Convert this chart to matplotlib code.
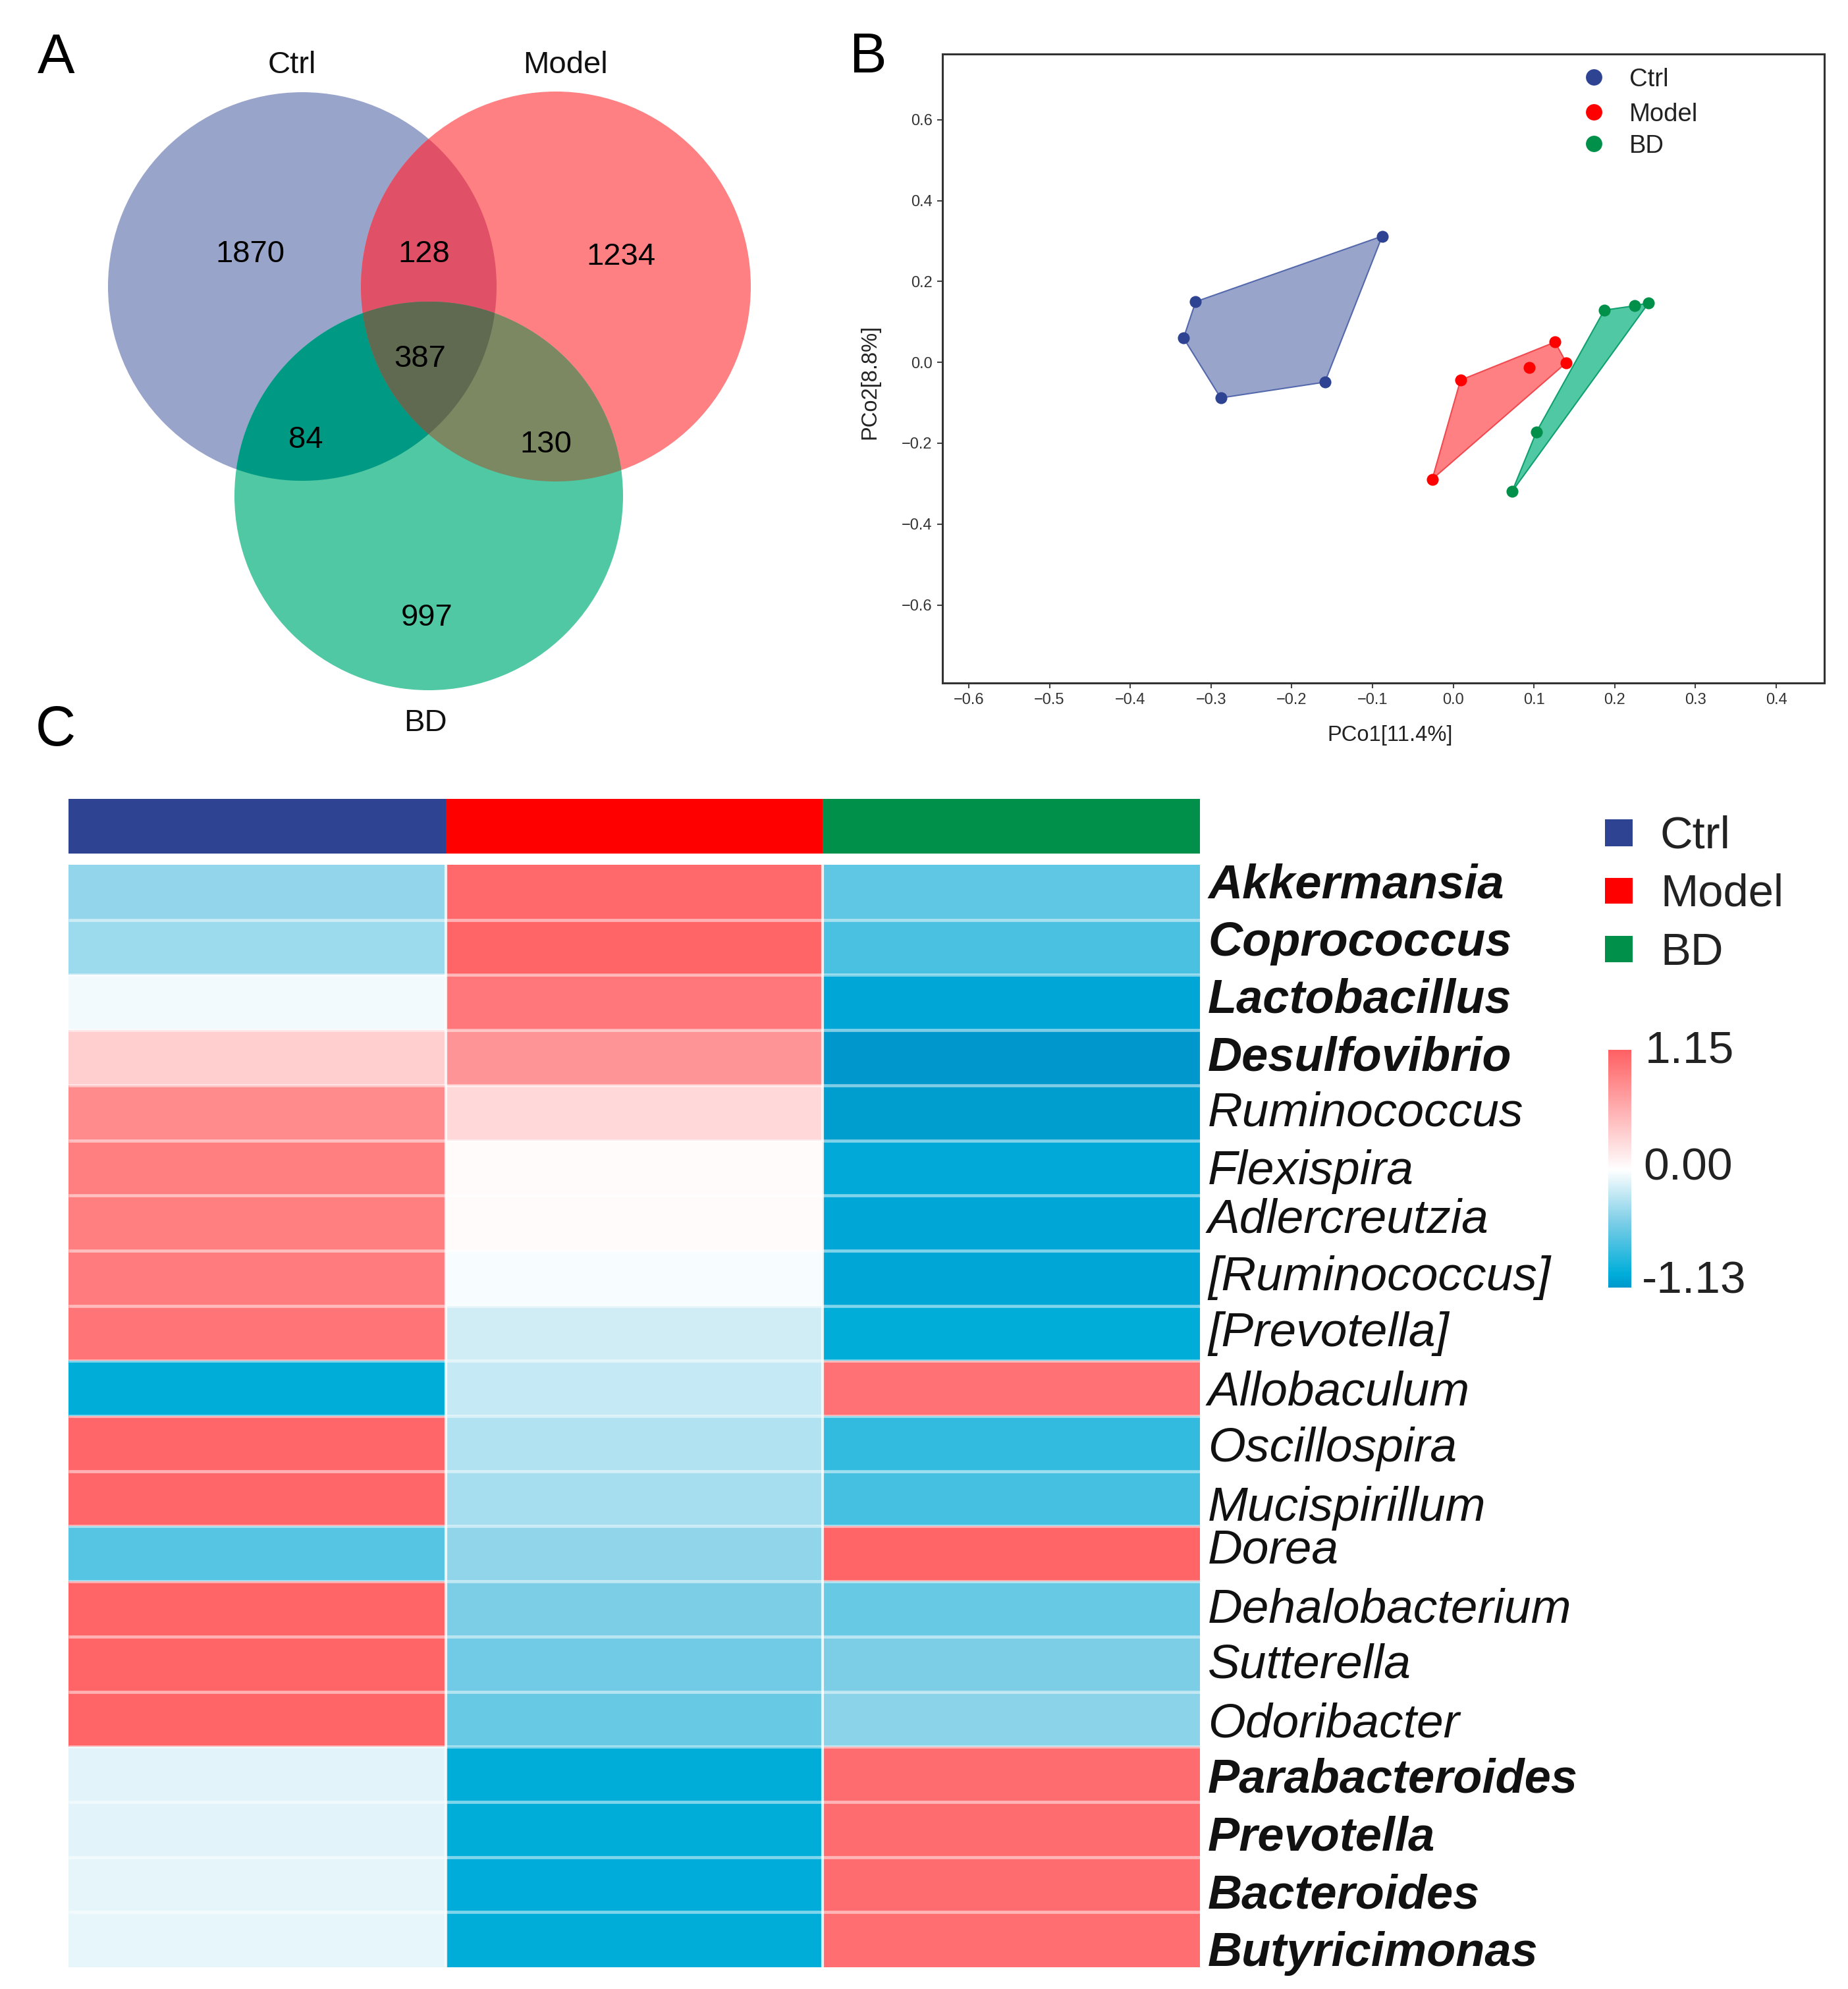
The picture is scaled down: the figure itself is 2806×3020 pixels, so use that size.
import numpy as np
import matplotlib
matplotlib.use("Agg")
import matplotlib.pyplot as plt
from matplotlib.colors import LinearSegmentedColormap, Normalize
from matplotlib.patches import Circle, Polygon, Rectangle
from matplotlib.cm import ScalarMappable

plt.rcParams["font.family"] = ["Liberation Sans", "DejaVu Sans"]

W, H = 2806, 3020

GROUPS = ["Ctrl", "Model", "BD"]
GROUP_COLORS = ["#2E4492", "#FF0000", "#00904A"]

# panel A
VENN_ONLY = [1870, 1234, 997]
VENN_CM, VENN_CB, VENN_MB, VENN_ALL = 128, 84, 130, 387

# panel B
PCO_CTRL_X = [-0.088, -0.159, -0.288, -0.334, -0.319]
PCO_CTRL_Y = [0.312, -0.049, -0.088, 0.060, 0.150]
PCO_MODEL_X = [0.009, 0.126, 0.140, -0.026]
PCO_MODEL_Y = [-0.044, 0.050, -0.001, -0.289]
PCO_MODEL_INNER = (0.094, -0.013)
PCO_BD_X = [0.187, 0.225, 0.242, 0.073, 0.103]
PCO_BD_Y = [0.129, 0.140, 0.147, -0.319, -0.172]
X_TICKS = [-0.6, -0.5, -0.4, -0.3, -0.2, -0.1, 0.0, 0.1, 0.2, 0.3, 0.4]
Y_TICKS = [-0.6, -0.4, -0.2, 0.0, 0.2, 0.4, 0.6]

# panel C
GENERA = ["Akkermansia", "Coprococcus", "Lactobacillus", "Desulfovibrio",
          "Ruminococcus", "Flexispira", "Adlercreutzia", "[Ruminococcus]",
          "[Prevotella]", "Allobaculum", "Oscillospira", "Mucispirillum",
          "Dorea", "Dehalobacterium", "Sutterella", "Odoribacter",
          "Parabacteroides", "Prevotella", "Bacteroides", "Butyricimonas"]
BOLD_GENERA = ["Akkermansia", "Coprococcus", "Lactobacillus", "Desulfovibrio",
               "Parabacteroides", "Prevotella", "Bacteroides", "Butyricimonas"]
HEAT_CTRL = [-0.41, -0.38, -0.05, 0.34, 0.83, 0.92, 0.93, 0.95, 1.00, -1.00,
             1.10, 1.10, -0.65, 1.12, 1.12, 1.12, -0.11, -0.11, -0.10, -0.09]
HEAT_MODEL = [1.08, 1.12, 0.98, 0.77, 0.27, 0.03, 0.03, -0.03, -0.18, -0.22,
              -0.30, -0.34, -0.42, -0.50, -0.55, -0.58, -1.00, -1.00, -1.01, -1.00]
HEAT_BD = [-0.62, -0.70, -1.04, -1.13, -1.10, -1.03, -1.04, -1.04, -1.00, 1.02,
           -0.80, -0.72, 1.12, -0.58, -0.50, -0.45, 1.06, 1.06, 1.06, 1.05]
LABEL_BASELINES = [1364, 1451, 1537, 1625, 1709, 1798, 1872, 1959, 2044, 2134,
                   2219, 2309, 2373, 2463, 2548, 2637, 2722, 2810, 2897, 2985]

# colour stops of the heatmap scale
SCALE_VALUES = [-1.13, -1.0, -0.5, 0.0, 1.15]
SCALE_COLORS = ["#0098CC", "#00AEDA", "#7DCEE7", "#FFFFFF", "#FF6063"]


def px_axes(fig, left, top, right, bottom):
    return fig.add_axes([left / W, 1 - bottom / H, (right - left) / W, (bottom - top) / H])


def intersect_poly(circles, n=720):
    # all the overlaps are convex, so walk round a point inside them
    cx = np.mean([c[0] for c in circles])
    cy = np.mean([c[1] for c in circles])
    th = np.linspace(0, 2 * np.pi, n, endpoint=False)
    dx, dy = np.cos(th), np.sin(th)
    dist = np.full(n, np.inf)
    for x0, y0, r in circles:
        ox, oy = cx - x0, cy - y0
        b = ox * dx + oy * dy
        dist = np.minimum(dist, -b + np.sqrt(b ** 2 - (ox ** 2 + oy ** 2 - r ** 2)))
    return np.column_stack([cx + dist * dx, cy + dist * dy])


fig = plt.figure(figsize=(W / 100, H / 100), dpi=100, facecolor="white")

# page-sized axes in pixels, used for the venn and all loose text
page = fig.add_axes([0, 0, 1, 1], zorder=5)
page.set_xlim(0, W)
page.set_ylim(H, 0)
page.axis("off")
page.patch.set_alpha(0)

for letter, x, y in [("A", 57, 111), ("B", 1290, 110), ("C", 54, 1132)]:
    page.text(x, y, letter, fontsize=61, ha="left", va="baseline", color="black")

# ---- A: venn
c_ctrl = (459, 435, 295)
c_model = (844, 435, 296)
c_bd = (651, 753, 295)
page.add_patch(Circle(c_ctrl[:2], c_ctrl[2], fc="#99A4CB", ec="none"))
page.add_patch(Circle(c_model[:2], c_model[2], fc="#FF8082", ec="none"))
page.add_patch(Circle(c_bd[:2], c_bd[2], fc="#50C8A3", ec="none"))
page.add_patch(Polygon(intersect_poly([c_ctrl, c_model]), fc="#E05067", ec="none"))
page.add_patch(Polygon(intersect_poly([c_ctrl, c_bd]), fc="#009A84", ec="none"))
page.add_patch(Polygon(intersect_poly([c_model, c_bd]), fc="#7B8861", ec="none"))
page.add_patch(Polygon(intersect_poly([c_ctrl, c_model, c_bd]), fc="#5F6A50", ec="none"))

venn_text = [(VENN_ONLY[0], 380, 386), (VENN_CM, 644, 386), (VENN_ONLY[1], 943, 390),
             (VENN_ALL, 638, 545), (VENN_CB, 464, 668), (VENN_MB, 829, 675),
             (VENN_ONLY[2], 648, 938)]
for val, x, y in venn_text:
    page.text(x, y, str(val), fontsize=34, ha="center", va="center", color="black")
for name, x, y in zip(GROUPS, [443, 858, 646], [111, 111, 1110]):
    page.text(x, y, name, fontsize=34, ha="center", va="baseline", color="#111111")

# ---- B: PCoA
ax = px_axes(fig, 1431, 82, 2770, 1037)
ax.set_xlim(-0.6326, 0.4595)
ax.set_ylim(-0.793, 0.7625)
pco = [(PCO_CTRL_X, PCO_CTRL_Y, "#99A4CB", "#5468AC"),
       (PCO_MODEL_X, PCO_MODEL_Y, "#FF8082", "#F04A50"),
       (PCO_BD_X, PCO_BD_Y, "#50C8A3", "#10A070")]
for (xs, ys, fill, edge), col in zip(pco, GROUP_COLORS):
    ax.fill(xs, ys, fc=fill, ec=edge, lw=1.5, zorder=2)
    ax.scatter(xs, ys, s=170, color=col, zorder=3, linewidths=0)
ax.scatter(*PCO_MODEL_INNER, s=170, color=GROUP_COLORS[1], zorder=3, linewidths=0)
ax.set_xticks(X_TICKS)
ax.set_xticklabels([f"{t:.1f}".replace("-", "\u2212") for t in X_TICKS])
ax.set_yticks(Y_TICKS)
ax.set_yticklabels([f"{t:.1f}".replace("-", "\u2212") for t in Y_TICKS])
ax.tick_params(labelsize=17, length=6, width=1.5, color="#444444", labelcolor="#333333", pad=5)
for side in ax.spines:
    ax.spines[side].set_color("#333333")
    ax.spines[side].set_linewidth(2.2)
page.text(2111, 1116, "PCo1[11.4%]", fontsize=23.5, ha="center", va="center", color="#222222")
page.text(1321, 580, "PCo2[8.8%]", fontsize=23.5, ha="center", va="center", rotation=90, color="#222222")
for name, col, y in zip(GROUPS, GROUP_COLORS, [117, 170, 218]):
    page.scatter([2420], [y], s=320, color=col, linewidths=0)
    page.text(2474, y + 4, name, fontsize=27.5, ha="left", va="center", color="#222222")

# ---- C: heatmap
norm = Normalize(SCALE_VALUES[0], SCALE_VALUES[-1])
cmap = LinearSegmentedColormap.from_list(
    "blue_red", [(float(norm(v)), c) for v, c in zip(SCALE_VALUES, SCALE_COLORS)])
heat = np.column_stack([HEAT_CTRL, HEAT_MODEL, HEAT_BD])

bar = px_axes(fig, 104, 1213, 1822, 1296)
bar.set_xlim(0, 3)
bar.set_ylim(0, 1)
bar.axis("off")
for i, col in enumerate(GROUP_COLORS):
    bar.add_patch(Rectangle((i, 0), 1, 1, fc=col, ec="none"))

hm = px_axes(fig, 104, 1313, 1822, 2987)
hm.pcolormesh(heat, cmap=cmap, norm=norm)
hm.set_ylim(len(GENERA), 0)
hm.hlines(range(1, len(GENERA)), 0, 3, color="white", alpha=0.5, lw=3.4)
hm.vlines([1, 2], 0, len(GENERA), color="white", alpha=0.85, lw=3.0)
hm.axis("off")

for name, y in zip(GENERA, LABEL_BASELINES):
    is_bold = name in BOLD_GENERA
    page.text(1834, y, name, fontsize=52 if is_bold else 52.7, style="italic", color="#111111",
              fontweight="bold" if is_bold else "normal", ha="left", va="baseline")

for name, col, top, bottom, base in zip(GROUPS, GROUP_COLORS, [1244, 1333, 1421],
                                        [1285, 1372, 1461], [1288, 1376, 1465]):
    page.add_patch(Rectangle((2437, top), 42, bottom - top, fc=col, ec="none"))
    page.text(2521, base, name, fontsize=49.5, ha="left", va="baseline", color="#222222")

cax = px_axes(fig, 2442, 1594, 2477, 1955)
cb = fig.colorbar(ScalarMappable(norm=norm, cmap=cmap), cax=cax)
cb.outline.set_visible(False)
cb.set_ticks([])
for txt, x, y in [("1.15", 2498, 1614), ("0.00", 2495, 1791), ("-1.13", 2493, 1964)]:
    page.text(x, y, txt, fontsize=50, ha="left", va="baseline", color="#222222")

fig.savefig("out.png", dpi=100, facecolor="white")
